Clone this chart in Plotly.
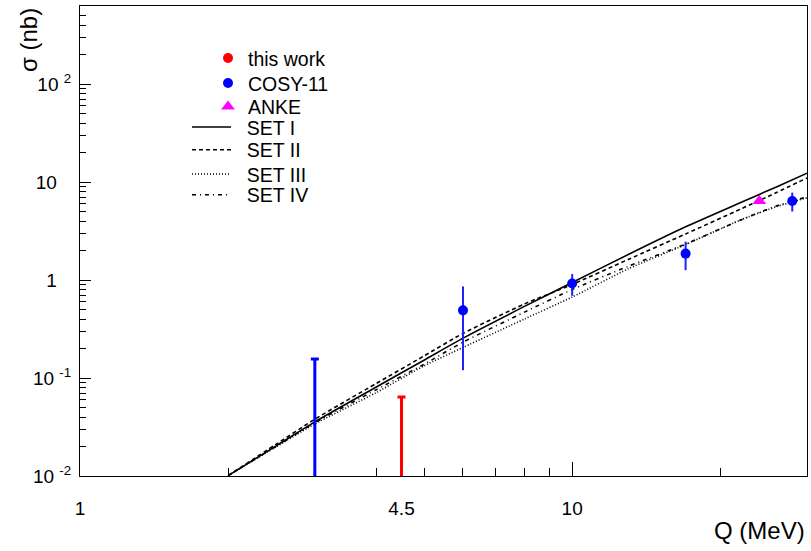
import plotly.graph_objects as go

# ---------------- data ----------------
q_theory = [2.0, 2.5, 3.0, 4.0, 5.0, 6.0, 8.0, 10.0, 13.0, 17.0, 22.0, 26.0, 30.0]
set1 = [0.0101, 0.0202, 0.0357, 0.081, 0.152, 0.255, 0.538, 0.944, 1.82, 3.49, 6.18, 8.9, 12.3]
set2 = [0.0101, 0.0210, 0.0380, 0.088, 0.168, 0.285, 0.57, 0.90, 1.62, 2.95, 5.3, 7.8, 11.0]
set3 = [0.0101, 0.0198, 0.0340, 0.071, 0.133, 0.205, 0.40, 0.67, 1.30, 2.30, 4.1, 5.6, 6.9]
set4 = [0.0101, 0.0200, 0.0350, 0.076, 0.138, 0.232, 0.47, 0.80, 1.38, 2.33, 4.1, 5.7, 7.05]

cosy_q = [6.0, 10.0, 17.0, 28.0]
cosy_sigma = [0.49, 0.92, 1.86, 6.4]
cosy_err = [0.37, 0.23, 0.60, 1.40]

cosy_ul_q = [3.0]
cosy_ul = [0.156]

this_work_q = [4.5]
this_work_ul = [0.064]

anke_q = [24.0]
anke_sigma = [6.4]

x_tickvals = [1, 4.5, 10]
x_ticktext = ["1", "4.5", "10"]
x_minor = [2, 3, 4, 5, 6, 7, 8, 9, 20]

PAD = "\u00a0\u00a0\u2009"
y_tickvals = [0.01, 0.1, 1, 10, 100]
y_ticktext = ["10 <sup>-2</sup>", "10 <sup>-1</sup>", "1" + PAD, "10" + PAD, "10 <sup>2</sup>"]
y_minor = [k * 10.0 ** n for n in range(-2, 3) for k in range(2, 10) if k * 10.0 ** n < 600]

FONT = "Liberation Sans, Arial, Helvetica, sans-serif"
LOW = 0.001  # lower end of upper-limit bars (below the visible range)

fig = go.Figure()

# theory curves
curves = [
    ("SET I", set1, "solid", "legend4"),
    ("SET II", set2, "4px,3px", "legend5"),
    ("SET III", set3, "1px,2px", "legend6"),
    ("SET IV", set4, "4px,4px,1px,4px", "legend7"),
]
for name, vals, dash, lg in curves:
    fig.add_trace(go.Scatter(
        x=q_theory, y=vals, mode="lines", name="\u00a0\u00a0" + name,
        line=dict(color="black", width=1.6, dash=dash, shape="spline", smoothing=0.6),
        legend=lg, hoverinfo="skip",
    ))

# upper limits (bars from the bottom to the limit, with a cap)
fig.add_trace(go.Scatter(
    x=cosy_ul_q, y=cosy_ul, mode="markers", showlegend=False,
    marker=dict(size=1, color="rgba(0,0,0,0)"),
    error_y=dict(type="data", symmetric=False, array=[0.0],
                 arrayminus=[v - LOW for v in cosy_ul], color="#0000ff",
                 thickness=3, width=4),
))
fig.add_trace(go.Scatter(
    x=this_work_q, y=this_work_ul, mode="markers", showlegend=False,
    marker=dict(size=1, color="rgba(0,0,0,0)"),
    error_y=dict(type="data", symmetric=False, array=[0.0],
                 arrayminus=[v - LOW for v in this_work_ul], color="#ff0000",
                 thickness=3, width=4),
))

# COSY-11 points
fig.add_trace(go.Scatter(
    x=cosy_q, y=cosy_sigma, mode="markers", name="COSY-11",
    marker=dict(symbol="circle", size=10, color="#0000ff"),
    error_y=dict(type="data", array=cosy_err, color="#2020ff", thickness=2, width=0),
    legend="legend2",
))

# ANKE point
fig.add_trace(go.Scatter(
    x=anke_q, y=anke_sigma, mode="markers", name="ANKE",
    marker=dict(symbol="triangle-up", size=12, color="#ff00ff"),
    legend="legend3",
))

# legend proxy for "this work"
fig.add_trace(go.Scatter(
    x=[None], y=[None], mode="markers", name="this work",
    marker=dict(symbol="circle", size=10, color="#ff0000"),
    legend="legend",
))


def paper_y(py):
    return (476.0 - py) / 470.0


def paper_x(px):
    return (px - 80.0) / 727.0


def leg(xp, yp, itemwidth):
    return dict(x=paper_x(xp), y=paper_y(yp), xanchor="left", yanchor="middle",
                bgcolor="rgba(0,0,0,0)", borderwidth=0, itemwidth=itemwidth,
                font=dict(family=FONT, size=19.5, color="black"),
                itemclick=False, itemdoubleclick=False)


axis_common = dict(
    showgrid=False, zeroline=False, showline=True, mirror=True,
    linecolor="black", linewidth=1, ticks="inside", tickcolor="black",
    tickwidth=1, tickfont=dict(family=FONT, size=19, color="black"),
    layer="below traces",
)

fig.update_layout(
    width=811, height=551, autosize=False,
    margin=dict(l=80, r=4, t=6, b=75),
    paper_bgcolor="white", plot_bgcolor="white",
    font=dict(family=FONT, color="black"),
    xaxis=dict(type="log", range=[0, 1.4771], tickmode="array",
               tickvals=x_tickvals, ticktext=x_ticktext, ticklen=14,
               ticklabelstandoff=15,
               minor=dict(tickmode="array", tickvals=x_minor, ticks="inside",
                          ticklen=8, tickcolor="black", tickwidth=1),
               **axis_common),
    yaxis=dict(type="log", range=[-2, 2.796], tickmode="array",
               tickvals=y_tickvals, ticktext=y_ticktext, ticklen=11,
               ticklabelstandoff=4,
               minor=dict(tickmode="array", tickvals=y_minor, ticks="inside",
                          ticklen=6, tickcolor="black", tickwidth=1),
               **axis_common),
    legend=leg(208, 58.3, 30),
    legend2=leg(208, 83.3, 30),
    legend3=leg(208, 106.7, 30),
    legend4=leg(187, 127.3, 39),
    legend5=leg(187, 150.0, 39),
    legend6=leg(187, 174.3, 39),
    legend7=leg(187, 195.0, 39),
    annotations=[
        dict(text="Q (MeV)", xref="paper", yref="paper", x=1.0, y=paper_y(530),
             xanchor="right", yanchor="middle", showarrow=False,
             font=dict(family=FONT, size=24, color="black")),
        dict(text="σ (nb)", xref="paper", yref="paper", x=paper_x(28), y=paper_y(6),
             xanchor="center", yanchor="top", textangle=-90, showarrow=False,
             font=dict(family=FONT, size=24, color="black")),
    ],
)

fig.write_html("out.html")
